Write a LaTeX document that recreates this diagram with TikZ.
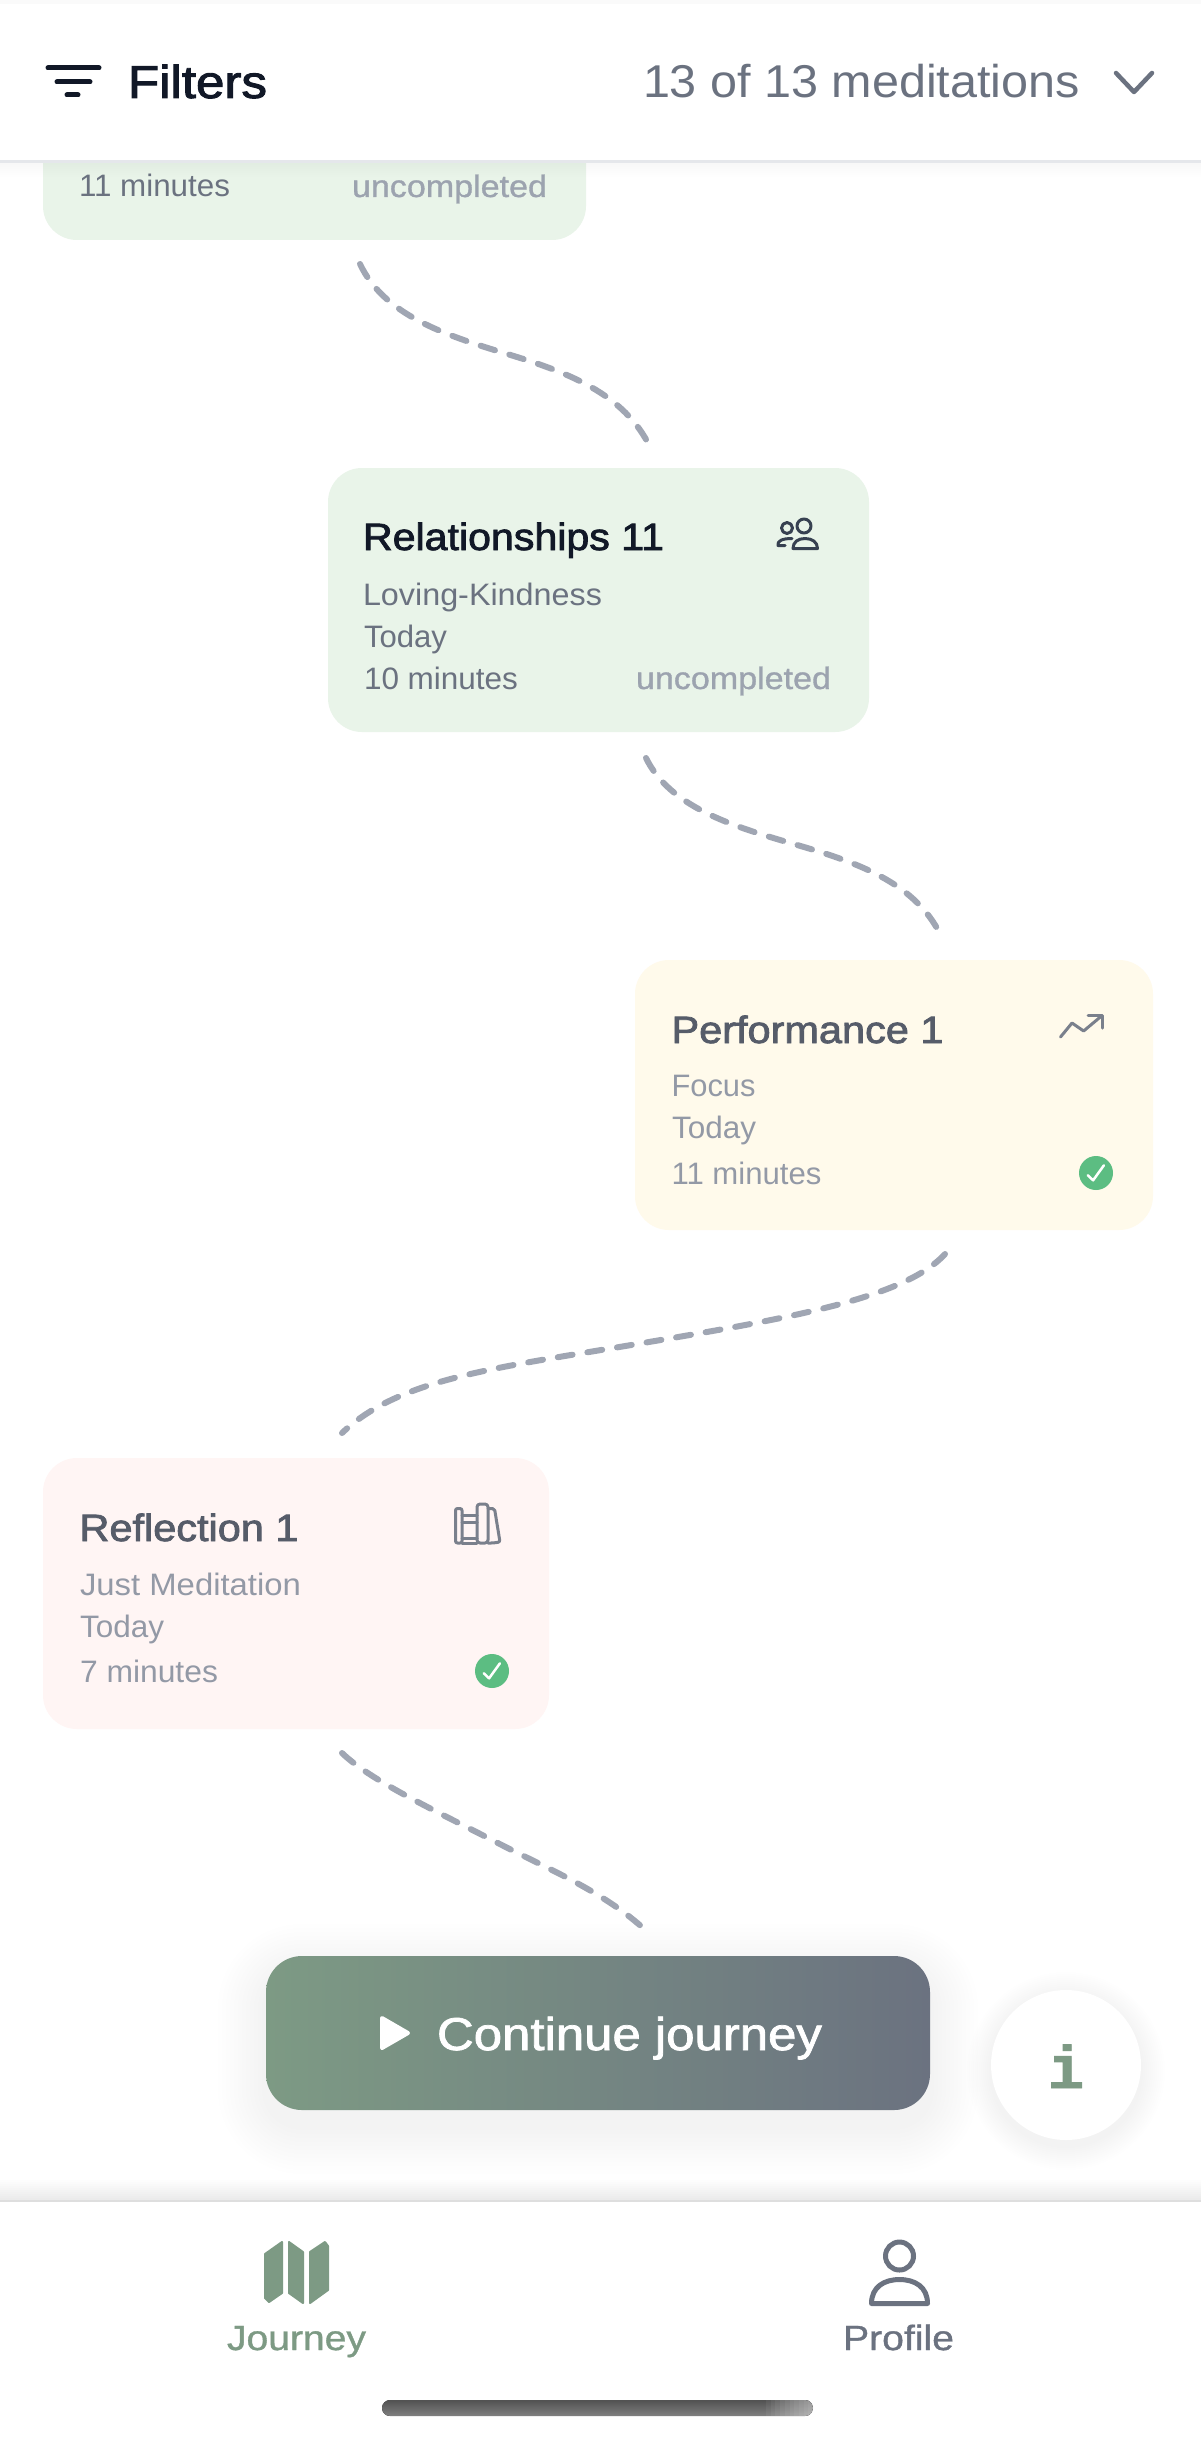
\documentclass[tikz,border=0pt]{standalone}
\usepackage{fontspec}
\usepackage{graphicx}
\setmainfont{Liberation Sans}
\newfontfamily\fntreg{Liberation Sans}
\newfontfamily\fntmed[FakeBold=1.0]{Liberation Sans}
\newfontfamily\fntbtn[FakeBold=1.6]{Liberation Sans}
\newfontfamily\fntsemi[FakeBold=2.0]{Liberation Sans}
\newfontfamily\fntmono[UprightFont=* Bold,FakeBold=1.5]{Liberation Mono}
\newcommand\fitw[2]{\resizebox{#1pt}{\height}{#2}}
\definecolor{ink}{HTML}{111827}
\definecolor{gr}{HTML}{6B7280}
\definecolor{grl}{HTML}{9CA3AF}
\definecolor{fad}{HTML}{565C69}
\definecolor{fadl}{HTML}{9399A6}
\definecolor{icong}{HTML}{7A808C}
\definecolor{sage}{HTML}{7D9A84}
\definecolor{cgreen}{HTML}{E9F4E9}
\definecolor{cyell}{HTML}{FFFAEB}
\definecolor{cpink}{HTML}{FFF5F4}
\definecolor{chk}{HTML}{5CBD82}
\definecolor{dashc}{HTML}{A0A6B3}
\definecolor{usr}{HTML}{374151}
\definecolor{barline}{HTML}{E5E7EB}
\definecolor{stripc}{HTML}{FAFAFA}
\newcommand\softshadow[8]{% x1 y1 x2 y2 r dy step op
  \foreach \i in {12,11,...,1}{
    \pgfmathsetmacro\rr{#5+\i*#7}
    \fill[black,opacity=#8,rounded corners=\rr pt]
      ({#1-\i*#7},{#2-\i*#7+#6}) rectangle ({#3+\i*#7},{#4+\i*#7+#6});
  }}
\tikzset{
  txt/.style={anchor=base west,inner sep=0pt,outer sep=0pt},
  subtxt/.style={txt,font=\fntreg\fontsize{31}{31}\selectfont},
  medtxt/.style={txt,font=\fntmed\fontsize{31}{31}\selectfont,text=grl},
  titletxt/.style={txt,font=\fntsemi\fontsize{38}{38}\selectfont},
  cardbox/.style={rectangle,rounded corners=34pt,inner sep=0pt,outer sep=0pt,draw=none},
  pathline/.style={draw=dashc,line width=6pt,line cap=round,dash pattern=on 15pt off 15pt},
  icon/.style={line width=3pt,line cap=round,line join=round,fill=none},
  checkdot/.style={circle,fill=chk,inner sep=0pt,minimum size=34pt},
}
\begin{document}
\begin{tikzpicture}[x=1pt,y=-1pt]
\useasboundingbox (0,0) rectangle (1201,2440);
\fill[white] (0,0) rectangle (1201,2440);

% card shadows
\softshadow{43}{60}{586}{240}{34}{4}{2}{0.0016}
\softshadow{328}{468}{869}{732}{34}{4}{2}{0.0016}
\softshadow{635}{960}{1153}{1230}{34}{4}{2}{0.0016}
\softshadow{43}{1458}{549}{1729}{34}{4}{2}{0.0016}

% cards
\node[cardbox,fill=cgreen,minimum width=543pt,minimum height=180pt] (card0) at (314.5,150) {};
\node[cardbox,fill=cgreen,minimum width=541pt,minimum height=264pt] (card1) at (598.5,600) {};
\node[cardbox,fill=cyell,minimum width=518pt,minimum height=270pt] (card2) at (894,1095) {};
\node[cardbox,fill=cpink,minimum width=506pt,minimum height=271pt] (card3) at (296,1593.5) {};

% connectors
\coordinate (c0a) at (360,264); \coordinate (c0m) at (504,353); \coordinate (c0b) at (648,443);
\coordinate (c1a) at (646,758); \coordinate (c1m) at (792,843.5); \coordinate (c1b) at (938,930);
\coordinate (c2a) at (945,1254); \coordinate (c2m) at (643,1343); \coordinate (c2b) at (342,1433);
\coordinate (c3a) at (342,1753); \coordinate (c3m) at (492,1840); \coordinate (c3b) at (642,1927);
\draw[pathline] (c0a) .. controls (384,315) and (445,335) .. (c0m) .. controls (560,370) and (620,390) .. (c0b);
\draw[pathline] (c1a) .. controls (670,807) and (732,826) .. (c1m) .. controls (849,860) and (910,879) .. (c1b);
\draw[pathline] (c2a) .. controls (905,1298) and (790,1318) .. (c2m) .. controls (496,1368) and (400,1378) .. (c2b);
\draw[pathline] (c3a) .. controls (370,1780) and (430,1808) .. (c3m) .. controls (550,1870) and (600,1890) .. (c3b);

% card 0 text
\node[subtxt,text=gr] (t0c) at (79,197) {\fitw{151}{11 minutes}};
\node[medtxt] (t0d) at (352,197) {\fitw{195}{uncompleted}};

% card 1
\node[titletxt,text=ink] (t1a) at (363,550) {\fitw{301}{Relationships 11}};
\node[subtxt,text=gr] (t1b) at (363,605) {\fitw{239}{Loving-Kindness}};
\node[subtxt,text=gr] (t1c) at (364,647) {\fitw{83}{Today}};
\node[subtxt,text=gr] (t1d) at (364,689) {\fitw{154}{10 minutes}};
\node[medtxt] (t1e) at (636,689) {\fitw{195}{uncompleted}};
\begin{scope}[icon,draw=usr]
 \draw (804,526) circle (7);
 \draw (787,528) circle (5.5);
 \draw (793,548.5) .. controls (793,542) and (798,538.5) .. (805,538.5) .. controls (812,538.5) and (817.5,542) .. (817.5,548.5) -- cycle;
 \draw (785,545.5) -- (778,545.5) .. controls (777,541) and (782,538.5) .. (792,538.5);
\end{scope}

% card 2
\node[titletxt,text=fad] (t2a) at (671.5,1043) {\fitw{272}{Performance 1}};
\node[subtxt,text=fadl] (t2b) at (671.5,1096) {\fitw{84}{Focus}};
\node[subtxt,text=fadl] (t2c) at (672,1138) {\fitw{84}{Today}};
\node[subtxt,text=fadl] (t2d) at (671.5,1184) {\fitw{150}{11 minutes}};
\begin{scope}[icon,draw=icong]
 \draw (1060.5,1037) -- (1072,1023) -- (1083.6,1031) -- (1101.5,1016);
 \draw (1088,1015) -- (1102,1015) -- (1102,1028);
\end{scope}
\node[checkdot] (k2) at (1096,1173) {};
\draw[white,line width=2.5pt,line cap=round,line join=round] ([shift={(-8.2,2.3)}]k2.center) -- ([shift={(-2.9,7.3)}]k2.center) -- ([shift={(7.9,-7.7)}]k2.center);

% card 3
\node[titletxt,text=fad] (t3a) at (79.5,1541) {\fitw{219}{Reflection 1}};
\node[subtxt,text=fadl] (t3b) at (80,1595) {\fitw{221}{Just Meditation}};
\node[subtxt,text=fadl] (t3c) at (80,1637) {\fitw{84}{Today}};
\node[subtxt,text=fadl] (t3d) at (80,1682) {\fitw{138}{7 minutes}};
\begin{scope}[icon,draw=icong]
 \draw[rounded corners=2pt] (455.5,1508.5) rectangle (462,1543);
 \draw (462,1515) -- (477,1515);
 \draw (462,1522) -- (477,1522);
 \draw (462,1538) -- (477,1538);
 \draw (462,1543) -- (477,1543);
 \draw[rounded corners=3pt] (477,1504) rectangle (488,1543);
 \draw[rounded corners=2pt] (488,1508.5) -- (494.5,1508.5) -- (500,1542) -- (493,1543) -- (488,1543);
\end{scope}
\node[checkdot] (k3) at (492,1671) {};
\draw[white,line width=2.5pt,line cap=round,line join=round] ([shift={(-8.2,2.3)}]k3.center) -- ([shift={(-2.9,7.3)}]k3.center) -- ([shift={(7.9,-7.7)}]k3.center);

% button
\softshadow{266}{1956}{930}{2110}{36}{16}{4}{0.0045}
\node[rectangle,rounded corners=36pt,inner sep=0pt,minimum width=664pt,minimum height=154pt,left color=sage,right color=gr] (btn) at (598,2033) {};
\fill[white,line join=round,draw=white,line width=4pt] (382,2018) -- (408,2033) -- (382,2048) -- cycle;
\node[txt,text=white,font=\fntbtn\fontsize{46}{46}\selectfont] (btnt) at (437,2050) {\fitw{385}{Continue journey}};

% info button
\foreach \i in {12,11,...,1}{
  \fill[black,opacity=0.004] (1066,2071) circle ({75+\i*2});
}
\node[circle,fill=white,inner sep=0pt,minimum size=150pt] (info) at (1066,2065) {};
\node[anchor=base,inner sep=0pt,text=sage,font=\fntmono\fontsize{60}{60}\selectfont] (infot) at (1066,2088) {i};

% top bar
\foreach \i in {1,...,7}{
  \fill[black,opacity=0.004] (0,160) rectangle (1201,{163+\i*2});
}
\fill[white] (0,0) rectangle (1201,160);
\fill[stripc] (0,0) rectangle (1201,4);
\fill[barline] (0,160) rectangle (1201,163);
\draw[ink,line width=5pt,line cap=round] (48,68) -- (99,68);
\draw[ink,line width=5pt,line cap=round] (57,82) -- (90,82);
\draw[ink,line width=5pt,line cap=round] (67,95) -- (78,95);
\node[txt,text=ink,font=\fntsemi\fontsize{46}{46}\selectfont] (filt) at (128,98) {\fitw{139}{Filters}};
\node[txt,text=gr,font=\fntreg\fontsize{46}{46}\selectfont] (count) at (643,98) {\fitw{437}{13 of 13 meditations}};
\coordinate (chl) at (1116,73); \coordinate (chm) at (1134,92); \coordinate (chr) at (1152,73);
\draw[gr,line width=4.5pt,line cap=round,line join=round] (chl) -- (chm) -- (chr);

% bottom bar
\foreach \i in {1,...,10}{
  \fill[black,opacity=0.006] (0,{2200-\i*2}) rectangle (1201,2200);
}
\fill[white] (0,2200) rectangle (1201,2440);
\fill[black!13] (0,2199.5) rectangle (1201,2201.5);
\fill[sage,draw=sage,line width=2pt,line join=round] (265,2254) -- (282,2242) -- (282,2293) -- (269,2302) -- (265,2298) -- cycle;
\fill[sage,draw=sage,line width=2pt,line join=round] (289,2242) -- (303,2252) -- (303,2303) -- (289,2293) -- cycle;
\fill[sage,draw=sage,line width=2pt,line join=round] (310,2252) -- (325,2242) -- (328,2246) -- (328,2290) -- (310,2303) -- cycle;
\node[txt,text=sage,font=\fntmed\fontsize{35}{35}\selectfont] (jr) at (227,2350) {\fitw{139}{Journey}};
\draw[gr,line width=5pt] (899.5,2256) circle (14);
\draw[gr,line width=5pt,line join=round] (871.5,2303.5) .. controls (871.5,2287) and (884,2279.5) .. (899.5,2279.5) .. controls (915,2279.5) and (927.5,2287) .. (927.5,2303.5) -- cycle;
\node[txt,text=gr,font=\fntmed\fontsize{35}{35}\selectfont] (pr) at (843,2350) {\fitw{111}{Profile}};

% home indicator
\begin{scope}
 \clip[rounded corners=8pt] (382,2400) rectangle (813,2416);
 \fill[top color=black!68,bottom color=black!50] (382,2400) rectangle (813,2416);
 \foreach \i in {0,...,9}{
   \fill[white,opacity=0.055] ({766+\i*4.7},2400) rectangle (813,2416);
 }
\end{scope}
\end{tikzpicture}
\end{document}
